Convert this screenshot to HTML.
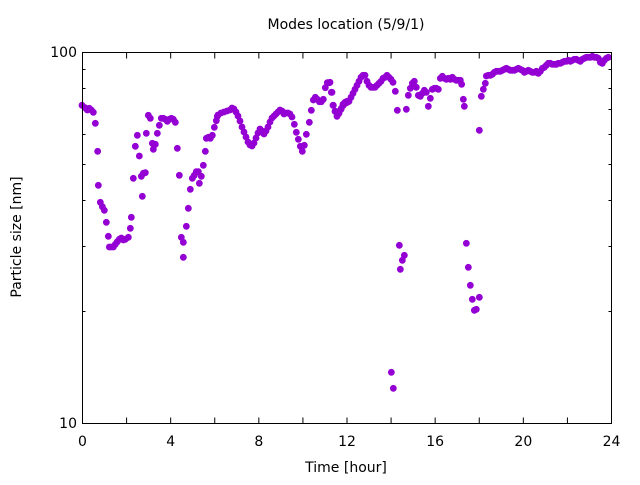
<!DOCTYPE html>
<html><head><meta charset="utf-8"><style>
html,body{margin:0;padding:0;background:#fff;}
svg text{font-family:"DejaVu Sans","Liberation Sans",sans-serif;font-size:14px;fill:#000;}
</style></head><body>
<svg id="s" width="640" height="480" xmlns="http://www.w3.org/2000/svg">
<rect x="0" y="0" width="640" height="480" fill="#fff"/>
<g id="ticks" stroke="#000" stroke-width="1"></g>
<g id="pts" fill="#9400d3"></g>
<rect x="82.5" y="52.5" width="529" height="371" fill="none" stroke="#000" stroke-width="1"/>
<text x="346" y="29" text-anchor="middle">Modes location (5/9/1)</text>
<text x="346" y="472" text-anchor="middle">Time [hour]</text>
<text x="0" y="0" text-anchor="middle" transform="translate(21,237) rotate(-90)">Particle size [nm]</text>
<text x="77" y="57" text-anchor="end">100</text>
<text x="77" y="428" text-anchor="end">10</text>
<g id="xl"></g>
</svg>
<script>
var NS="http://www.w3.org/2000/svg";
function el(t,a,p){var e=document.createElementNS(NS,t);for(var k in a)e.setAttribute(k,a[k]);p.appendChild(e);return e;}
var tk=document.getElementById('ticks'),xl=document.getElementById('xl');
var L=82.5,R=611.5,T=52.5,B=423.5;
for(var h=0;h<=24;h+=2){var x=L+h*(R-L)/24;
 el('line',{x1:x,y1:B,x2:x,y2:B-6},tk);el('line',{x1:x,y1:T,x2:x,y2:T+6},tk);
 if(h%4==0){var t=el('text',{x:x,y:446,'text-anchor':'middle'},xl);t.textContent=h;}}
for(var v=20;v<=90;v+=10){var y=Math.round(423-371*Math.log10(v/10))+0.5;
 el('line',{x1:L,y1:y,x2:L+3,y2:y},tk);el('line',{x1:R,y1:y,x2:R-3,y2:y},tk);}
[T,B].forEach(function(y){el('line',{x1:L,y1:y,x2:L+6,y2:y},tk);el('line',{x1:R,y1:y,x2:R-6,y2:y},tk);});
var z1=[36,196,45,203,52,210,58,205,64,210,70,217,76,250,83,334,85,436,91,487,97,500,103,511,109,547,115,589,118,621,124,621,130,621,136,613,142,605,148,598,154,594,160,600,166,598,175,592,181,565,184,532,190,415,196,319,202,286,208,348,214,409,220,400,226,398,217,469,229,280,235,226,241,235,247,310,253,313,250,328,256,313,262,280,268,256,274,235,280,235,286,238,292,244,298,238,304,235,310,238,316,247,322,325,328,406,334,592,340,607,340,652,349,559,355,505,361,448,367,415,373,406,379,395,385,395,388,430,394,409,400,376,406,334,409,295,415,292,421,295,427,286,433,262,439,242,442,229,673,253,679,277,685,298,691,319,697,334,703,316,709,283,718,247,724,211,730,180,736,172,742,178,748,185,754,185,760,178,766,143,772,128,778,128,784,157,790,196,796,214,802,226,808,214,814,205,820,196,826,190,832,187];
var w=[218,115,221,113,224,112,227,111,230,110,232,108,234,109,236,112,238,116,240,121,242,127,244,132,246,137,248,142,250,145,252,146,254,143,256,138,258,133,260,129,262,131,264,134,266,131,268,127,270,122,272,118,274,116,276,114,278,112,280,110,282,111,284,114,286,113,288,113,290,114,292,117];
var z2=[0,127,6,157,9,196,15,214,21,229,27,220,33,208,39,193,45,187,51,184,57,184,63,172,69,160,75,148,81,136,87,124,93,112,99,106,105,106,111,124,117,136,123,142,129,142,135,142,141,136,147,130,153,124,159,115,165,112,171,106,177,112,183,118,189,127,196,154,202,211,184,997,190,1045,208,616,211,688,217,661,223,646,229,208,235,166,241,145,247,130,253,124,259,142,265,166,271,169,277,160,283,151,289,157,295,199,301,175,307,148,313,145,319,145,325,148,331,115,337,109,343,115,349,118,355,115,361,118,367,112,373,118,379,121,385,121,391,121,395,133,400,178,403,199,409,610,415,682,421,736,427,778,433,811,439,808,448,772,448,271,454,169,460,148,466,130,469,108,475,106,481,106,487,103,493,97,499,94,505,94,511,94,517,91,523,88,529,85,535,88,541,91,547,91,553,91,559,88,565,85,571,88,577,91,583,97,589,94,595,91,601,94,607,97,613,97,619,94,625,100,631,94,637,85,643,82,649,76,655,70,661,70,667,73,673,73,679,73,685,70,691,70,697,67,703,64,709,64,715,61,721,64,727,61,733,58,739,58,745,61,751,64,757,58,763,55,769,52,775,52,781,52,787,49,793,52,799,52,805,55,811,67,817,70,823,61,829,55,835,52];
var P=document.getElementById('pts');
function dot(x,y){el('circle',{cx:x,cy:y,r:3.4},P);}
for(var i=0;i<z1.length;i+=2)dot(70+z1[i]/3,40+z1[i+1]/3);
for(var i=0;i<w.length;i+=2)dot(w[i],w[i+1]);
for(var i=0;i<z2.length;i+=2)dot(330+z2[i]/3,40+z2[i+1]/3);
</script>
</body></html>
